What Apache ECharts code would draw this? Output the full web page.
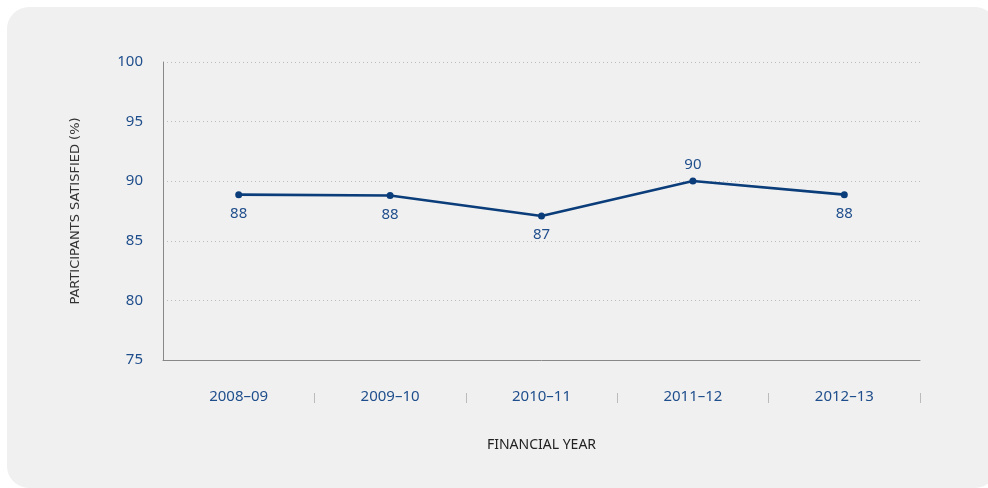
<!DOCTYPE html>
<html>
<head>
<meta charset="utf-8">
<script src="https://cdn.jsdelivr.net/npm/echarts@6/dist/echarts.min.js"></script>
<style>
html,body{margin:0;padding:0;background:#ffffff;}
#wrap{position:absolute;left:7px;top:7px;width:990px;height:481px;background:#f0f0f0;border-radius:22px;}
#chart{position:absolute;left:0;top:0;width:988px;height:488px;}
</style>
</head>
<body>
<div id="wrap"></div>
<div id="chart"></div>
<script>
const categories = ['2008\u201309', '2009\u201310', '2010\u201311', '2011\u201312', '2012\u201313'];
const satisfied = [88.87, 88.8, 87.08, 90.02, 88.87];
const pointLabels = ['88', '88', '87', '90', '88'];
const labelAbove = [false, false, false, true, false];
const yTicks = { min: 75, max: 100, interval: 5 };
const separatorPositions = [1, 2, 3, 4, 5];

const blue = '#1f4e8c';
const font = 'Noto Sans';
const chart = echarts.init(document.getElementById('chart'), null, { renderer: 'canvas' });

chart.setOption({
  backgroundColor: 'transparent',
  animation: false,
  grid: { left: 163, right: 68, top: 62, bottom: 128, containLabel: false },
  xAxis: [
    {
      type: 'category',
      data: categories,
      boundaryGap: true,
      axisLine: { show: true, lineStyle: { color: '#888888', width: 1 } },
      axisTick: { show: false },
      axisLabel: { color: blue, fontSize: 15, fontFamily: font, margin: 29 },
      name: 'FINANCIAL YEAR',
      nameLocation: 'middle',
      nameGap: 78,
      nameTextStyle: { color: '#222222', fontSize: 14, fontFamily: font }
    },
    {
      type: 'value',
      position: 'bottom',
      min: 0,
      max: categories.length,
      offset: 33,
      axisLine: { show: false },
      axisTick: { show: true, length: 10, customValues: separatorPositions, lineStyle: { color: '#bbbbbb', width: 1 } },
      axisLabel: { show: false },
      splitLine: { show: false }
    }
  ],
  yAxis: {
    type: 'value',
    min: yTicks.min,
    max: yTicks.max,
    interval: yTicks.interval,
    axisLine: { show: true, lineStyle: { color: '#888888', width: 1 } },
    axisTick: { show: false },
    axisLabel: { color: blue, fontSize: 15, fontFamily: font, margin: 20 },
    splitLine: { show: true, lineStyle: { color: '#bcbcbc', type: [1, 3], width: 1 } },
    name: 'PARTICIPANTS SATISFIED (%)',
    nameLocation: 'middle',
    nameGap: 81,
    nameRotate: 90,
    nameTextStyle: { color: '#333333', fontSize: 13, fontFamily: 'DejaVu Sans' }
  },
  series: [{
    type: 'line',
    xAxisIndex: 0,
    data: satisfied.map((v, i) => ({
      value: v,
      label: { position: labelAbove[i] ? 'top' : 'bottom', distance: labelAbove[i] ? 5 : 8 }
    })),
    symbol: 'circle',
    symbolSize: 7,
    lineStyle: { color: '#0a3d7a', width: 2.6 },
    itemStyle: { color: '#0a3d7a' },
    label: {
      show: true,
      color: blue,
      fontSize: 15,
      fontFamily: font,
      formatter: p => pointLabels[p.dataIndex]
    }
  }]
});
</script>
</body>
</html>
